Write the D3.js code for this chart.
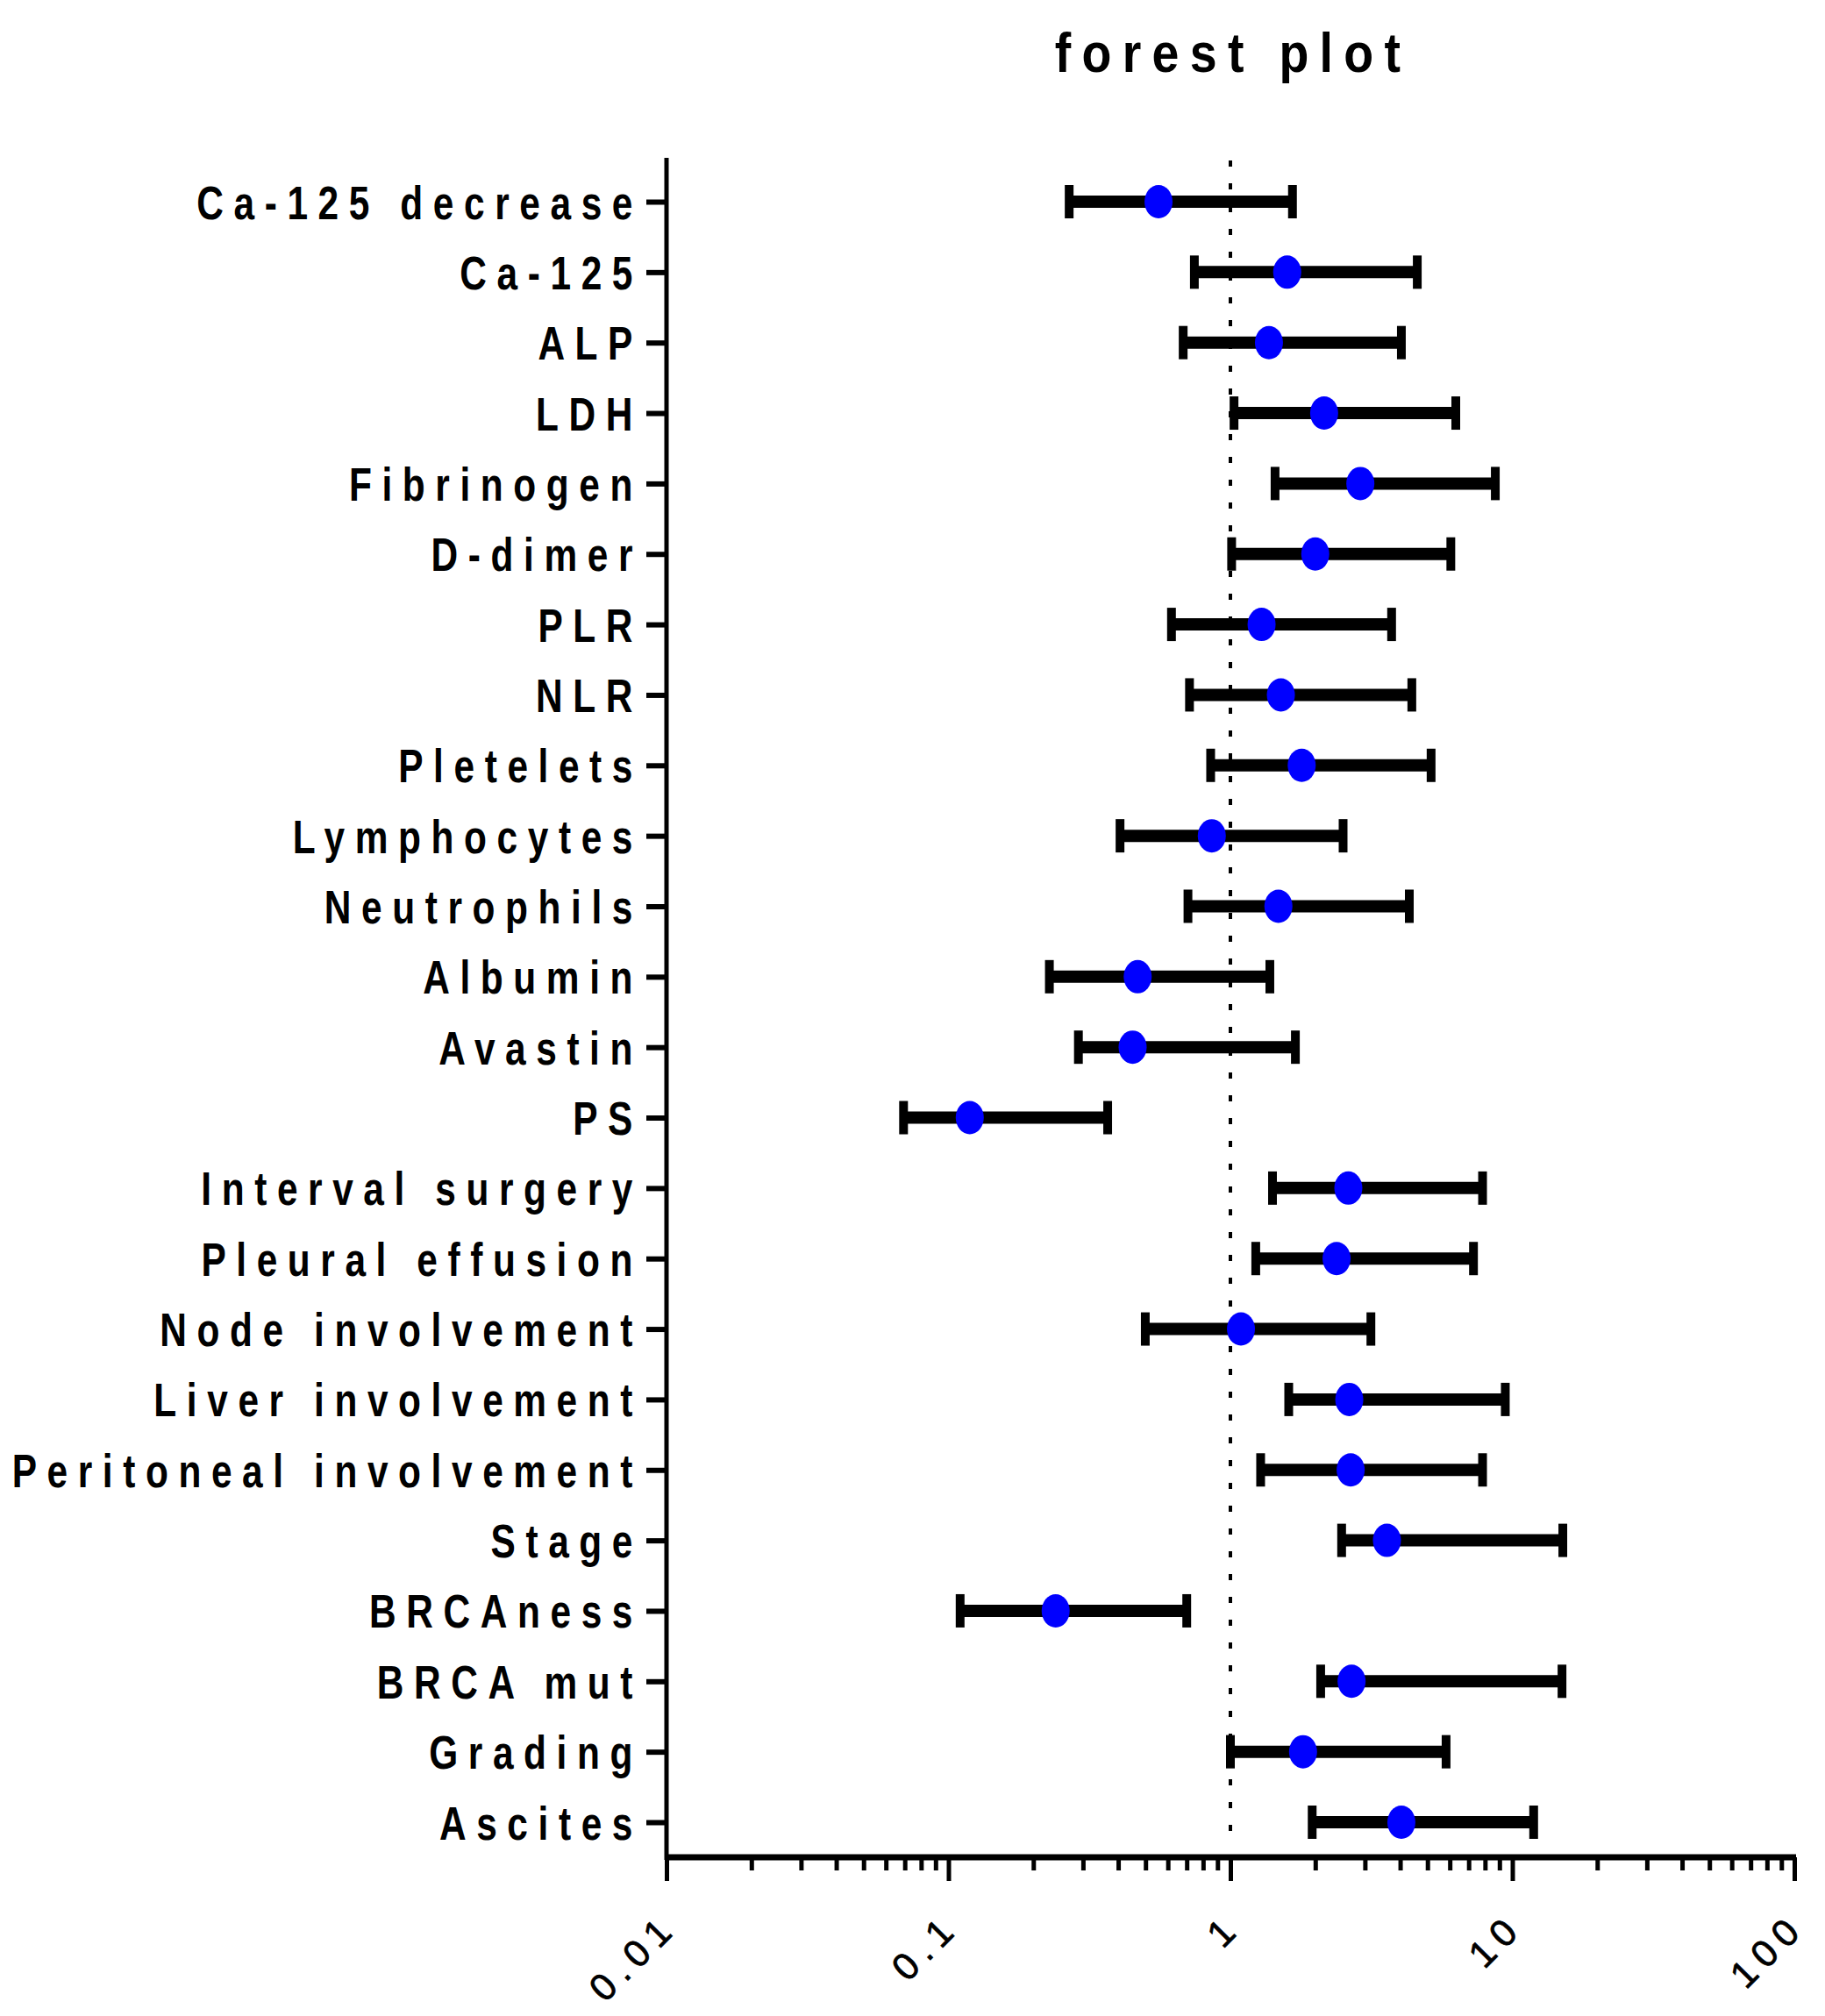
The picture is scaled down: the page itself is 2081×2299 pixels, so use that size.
<!DOCTYPE html>
<html>
<head>
<meta charset="utf-8">
<script src="https://cdn.jsdelivr.net/npm/d3@7"></script>
<style>
  body { margin: 0; background: #fff; }
  svg { display: block; font-family: "Liberation Sans", Arial, sans-serif; }
</style>
</head>
<body>
<svg id="chart"></svg>
<script>
// rows, top to bottom
const labels = ['Ca-125 decrease', 'Ca-125', 'ALP', 'LDH', 'Fibrinogen', 'D-dimer', 'PLR', 'NLR',
  'Pletelets', 'Lymphocytes', 'Neutrophils', 'Albumin', 'Avastin', 'PS', 'Interval surgery',
  'Pleural effusion', 'Node involvement', 'Liver involvement', 'Peritoneal involvement', 'Stage',
  'BRCAness', 'BRCA mut', 'Grading', 'Ascites'];
const estimate = [0.556, 1.59, 1.37, 2.15, 2.89, 2.0, 1.29, 1.51, 1.79, 0.859, 1.48, 0.469,
  0.45, 0.119, 2.62, 2.38, 1.09, 2.64, 2.67, 3.59, 0.24, 2.69, 1.81, 4.04];
const lower = [0.268, 0.745, 0.68, 1.03, 1.44, 1.01, 0.618, 0.716, 0.851, 0.406, 0.707, 0.228,
  0.289, 0.0693, 1.41, 1.23, 0.499, 1.61, 1.28, 2.48, 0.11, 2.09, 1.0, 1.95];
const upper = [1.66, 4.6, 4.04, 6.3, 8.7, 6.05, 3.73, 4.4, 5.15, 2.51, 4.31, 1.38,
  1.7, 0.367, 7.84, 7.28, 3.15, 9.44, 7.84, 15.1, 0.7, 15.0, 5.82, 11.9];
const majorTicks = [0.01, 0.1, 1, 10, 100];
const tickLabels = ['0.01', '0.1', '1', '10', '100'];

const [W, H] = [2081, 2299];
const svg = d3.select('#chart').attr('width', W).attr('height', H);

const x = d3.scaleLog().domain([0.01, 100]).range([760, 2046]);
const y = d3.scalePoint().domain(labels).range([230, 2078]);
const axisY = 2118;

//title
svg.append('text').attr('transform', 'translate(1406,82) scale(0.88,1)')
  .attr('text-anchor', 'middle').attr('font-size', 63).attr('font-weight', 'bold')
  .attr('letter-spacing', 14).text('forest plot');

//reference line at 1
svg.append('line').attr('x1', x(1)).attr('x2', x(1)).attr('y1', 183).attr('y2', 2106)
  .attr('stroke', '#000').attr('stroke-width', 4).attr('stroke-dasharray', '7,19');

//x axis with minor ticks
let allTicks = [];
majorTicks.slice(0, -1).forEach(m => { for (let k = 1; k < 10; k++) allTicks.push(m * k); });
allTicks.push(100);

const isMajor = d => majorTicks.some(m => Math.abs(m - d) < d * 1e-6);
const xAxis = d3.axisBottom(x).tickValues(allTicks).tickSize(27).tickSizeOuter(0)
  .tickFormat(d => { const i = majorTicks.findIndex(m => Math.abs(m - d) < d * 1e-6); return i >= 0 ? tickLabels[i] : ''; });
const gx = svg.append('g').attr('transform', `translate(0,${axisY})`).call(xAxis);
gx.select('.domain').remove();
gx.selectAll('.tick line').attr('stroke', '#000').attr('stroke-width', 5)
  .attr('y2', d => isMajor(d) ? 27 : 15);
gx.selectAll('.tick text').attr('fill', '#000').attr('font-size', 43)
  .attr('letter-spacing', 9).attr('text-anchor', 'end').attr('dy', null)
  .attr('x', 0).attr('y', 0).attr('transform', 'translate(14,82) rotate(-45)')
  .style('stroke', '#000').style('stroke-width', 0.8);

//y axis
const yAxis = d3.axisLeft(y).tickSize(23).tickSizeOuter(0);
const gy = svg.append('g').attr('transform', 'translate(760,0)').call(yAxis);
gy.select('.domain').remove();
gy.selectAll('.tick line').attr('stroke', '#000').attr('stroke-width', 6);
gy.selectAll('.tick text').attr('fill', '#000').attr('font-size', 53).attr('font-weight', 'bold')
  .attr('letter-spacing', 14.5).attr('dy', null).attr('x', 0)
  .attr('transform', 'translate(-27,19) scale(0.8,1)');

//axis lines
svg.append('line').attr('x1', 760).attr('x2', 760).attr('y1', 180).attr('y2', axisY + 3)
  .attr('stroke', '#000').attr('stroke-width', 5);
svg.append('line').attr('x1', 758).attr('x2', 2048).attr('y1', axisY).attr('y2', axisY)
  .attr('stroke', '#000').attr('stroke-width', 7);

//error bars
const rows = svg.append('g').selectAll('g').data(labels).join('g')
  .attr('transform', d => `translate(0,${y(d)})`);
rows.append('line').attr('x1', (d, i) => x(lower[i])).attr('x2', (d, i) => x(upper[i]))
  .attr('stroke', '#000').attr('stroke-width', 14);
rows.append('line').attr('x1', (d, i) => x(lower[i])).attr('x2', (d, i) => x(lower[i]))
  .attr('y1', -19).attr('y2', 19).attr('stroke', '#000').attr('stroke-width', 10);
rows.append('line').attr('x1', (d, i) => x(upper[i])).attr('x2', (d, i) => x(upper[i]))
  .attr('y1', -19).attr('y2', 19).attr('stroke', '#000').attr('stroke-width', 10);
rows.append('ellipse').attr('cx', (d, i) => x(estimate[i])).attr('cy', 0)
  .attr('rx', 16).attr('ry', 19).attr('fill', '#0000ff');
</script>
</body>
</html>
